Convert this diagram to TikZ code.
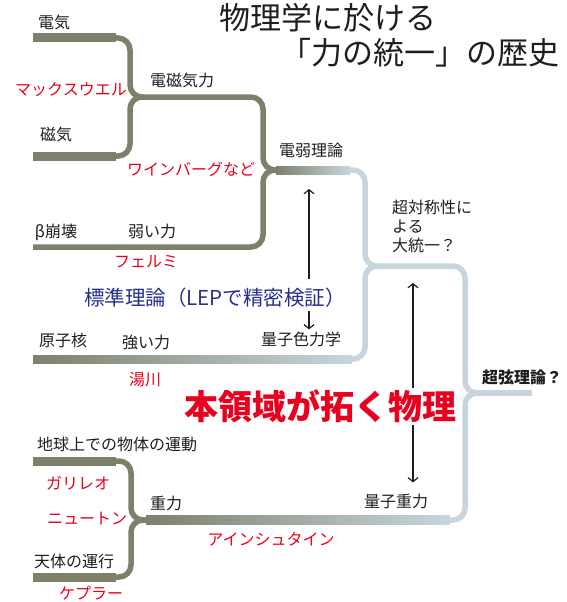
\documentclass[tikz,border=0pt]{standalone}
\usepackage{fontspec}
\newfontfamily\jpfont{Noto Sans CJK JP}
\usetikzlibrary{arrows.meta}
\definecolor{stemgray}{RGB}{125,129,108}
\definecolor{stemblue}{RGB}{200,213,221}
\definecolor{namered}{RGB}{232,0,30}
\definecolor{stdblue}{RGB}{38,48,140}
\definecolor{inkgray}{RGB}{30,30,30}

\begin{document}
\begin{tikzpicture}[x=1pt,y=-1pt]
	\tikzstyle{every node}+=[inner sep=0pt, text=inkgray, font=\jpfont\fontsize{16}{19}\selectfont]
	\tikzstyle{stem}=[draw=stemgray, line width=5.5pt, rounded corners=12pt]
	\tikzstyle{bluestem}=[draw=stemblue, line width=5.5pt, rounded corners=12pt]
	\tikzstyle{who}=[text=namered]
	\tikzstyle{hint}=[-{Straight Barb[length=4pt,width=10pt]}, line width=1.2pt, draw=inkgray]
	\useasboundingbox (0,0) rectangle (566,602);

	% joints and free ends
	\coordinate (em) at (143,97);
	\coordinate (ew) at (277,170);
	\coordinate (gut) at (377,266);
	\coordinate (toe) at (478,393);
	\coordinate (grav) at (147,520);
	\coordinate (elec) at (115,38);
	\coordinate (magn) at (115,156);
	\coordinate (weak) at (33,247);
	\coordinate (ewend) at (349,170);
	\coordinate (strong) at (351,359);
	\coordinate (earth) at (115,461);
	\coordinate (sky) at (115,577);
	\coordinate (gravend) at (449,520);
	\coordinate (toeend) at (532,393);
	\coordinate (ewtip) at (309,189);
	\coordinate (guttip) at (413,283);

	% thick bars
	\fill [stemgray] (33,33.5) rectangle (116,42.5);
	\fill [stemgray] (33,151.5) rectangle (116,160.5);
	\fill [stemgray] (33,456.5) rectangle (116,465.5);
	\fill [stemgray] (33,572.5) rectangle (116,581.5);
	\shade [left color=stemgray, right color=stemblue] (276,166) rectangle (350,174);
	\shade [left color=stemgray, right color=stemblue] (33,355) rectangle (352,363);
	\shade [left color=stemgray, right color=stemblue] (146,515.5) rectangle (450,524.5);

	% branches
	\draw [stem] (elec) -| ([xshift=-13]em) -- (em);
	\draw [stem] (magn) -| ([xshift=-13]em) -- (em);
	\draw [stem] (em) -| ([xshift=-14]ew) -- (ew);
	\draw [stem] (weak) -| ([xshift=-14]ew) -- (ew);
	\draw [bluestem] (ewend) -| ([xshift=-12]gut) -- (gut);
	\draw [bluestem] (strong) -| ([xshift=-12]gut) -- (gut);
	\draw [bluestem] (gut) -| ([xshift=-13]toe) -- (toe);
	\draw [bluestem] (gravend) -| ([xshift=-13]toe) -- (toe);
	\draw [bluestem] (toe) -- (toeend);
	\draw [stem] (earth) -| ([xshift=-16]grav) -- (grav);
	\draw [stem] (sky) -| ([xshift=-16]grav) -- (grav);

	% title
	\node (title1) at (328,18) {\fontsize{31}{36}\selectfont 物理学に於ける};
	\node (title2) at (420,53) {\fontsize{31}{36}\selectfont 「力の統一」の歴史};

	% labels
	\node (lelec) at (54,22) {電気};
	\node [who] (maxwell) at (71,90) {マックスウエル};
	\node (lmagn) at (56,134) {磁気};
	\node (lem) at (182,80) {電磁気力};
	\node [who] (weinberg) at (191,169) {ワインバーグなど};
	\node (lew) at (311,150) {電弱理論};
	\node (beta) at (56,232) {β崩壊};
	\node (lweak) at (152,231) {弱い力};
	\node [who] (fermi) at (146,262) {フェルミ};
	\node [text=stdblue, font=\jpfont\fontsize{20.5}{24}\selectfont] (std) at (215,298) {標準理論（LEPで精密検証）};
	\node (nucl) at (63,340) {原子核};
	\node (lstrong) at (146,342) {強い力};
	\node (qcd) at (301,339) {量子色力学};
	\node [who] (yukawa) at (145,380) {湯川};
	\node [anchor=north west, align=left] (susy) at (392,200) {超対称性に\\よる\\大統一？};
	\node [font=\jpfont\bfseries\fontsize{16}{19}\selectfont] (string) at (522,377) {超弦理論？};
	\node [text=namered, font=\jpfont\bfseries\fontsize{34}{40}\selectfont] (big) at (320,406) {本領域が拓く物理};
	\node (lground) at (117,444) {地球上での物体の運動};
	\node [who] (galileo) at (78,483) {ガリレオ};
	\node (lgrav) at (166,503) {重力};
	\node [who] (newton) at (87,519) {ニュートン};
	\node (lsky) at (74,561) {天体の運行};
	\node [who] (kepler) at (91,593) {ケプラー};
	\node [who] (einstein) at (271,539) {アインシュタイン};
	\node (qg) at (396,501) {量子重力};

	% arrows
	\draw [hint, shorten <=9pt] (std.north -| ewtip) -- (ewtip);
	\draw [hint, shorten <=3pt, shorten >=2pt] (std.south -| ewtip) -- (qcd.north -| ewtip);
	\draw [hint, shorten <=1pt] (big.north -| guttip) -- (guttip);
	\draw [hint, shorten <=2pt, shorten >=11pt] (big.south -| guttip) -- (qg.north -| guttip);
\end{tikzpicture}
\end{document}
